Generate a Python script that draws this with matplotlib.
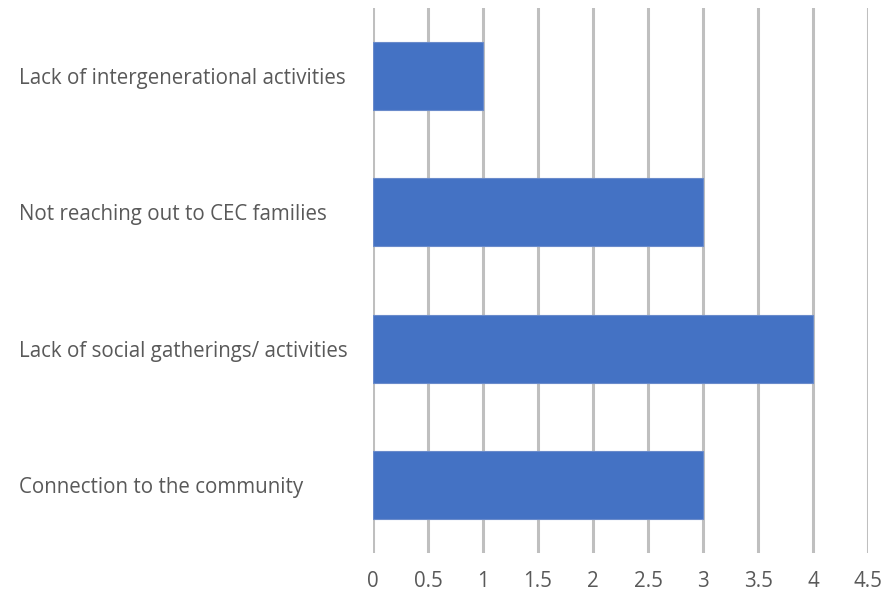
import matplotlib.pyplot as plt

categories = ['Connection to the community',
              'Lack of social gatherings/ activities',
              'Not reaching out to CEC families',
              'Lack of intergenerational activities']
values = [3, 4, 3, 1]
xticks = [0, 0.5, 1, 1.5, 2, 2.5, 3, 3.5, 4, 4.5]

plt.rcParams['font.family'] = ['Open Sans', 'DejaVu Sans']

fig = plt.figure(figsize=(8.87, 5.94), dpi=100)
ax = fig.add_axes([0.4205, 0.069, 0.9786 - 0.4205, 0.9865 - 0.069])

ypos = list(range(len(categories)))
ax.barh(ypos, values, height=0.5, color='#4472C4', edgecolor='#6a8bcb',
        linewidth=0.8, zorder=3)

ax.set_xlim(0, 4.5)
ax.set_ylim(-0.5, 3.5)
ax.set_xticks(xticks)
ax.set_xticklabels([f'{t:g}' for t in xticks])
ax.set_yticks(ypos)
ax.set_yticklabels(categories, ha='left')

ax.grid(axis='x', color='#BFBFBF', linewidth=2.2, zorder=0)
ax.tick_params(axis='both', length=0, colors='#595959', labelsize=14.8)
ax.tick_params(axis='y', pad=255)
ax.tick_params(axis='x', pad=13)
for s in ax.spines.values():
    s.set_visible(False)

fig.savefig('out.png', dpi=100)
